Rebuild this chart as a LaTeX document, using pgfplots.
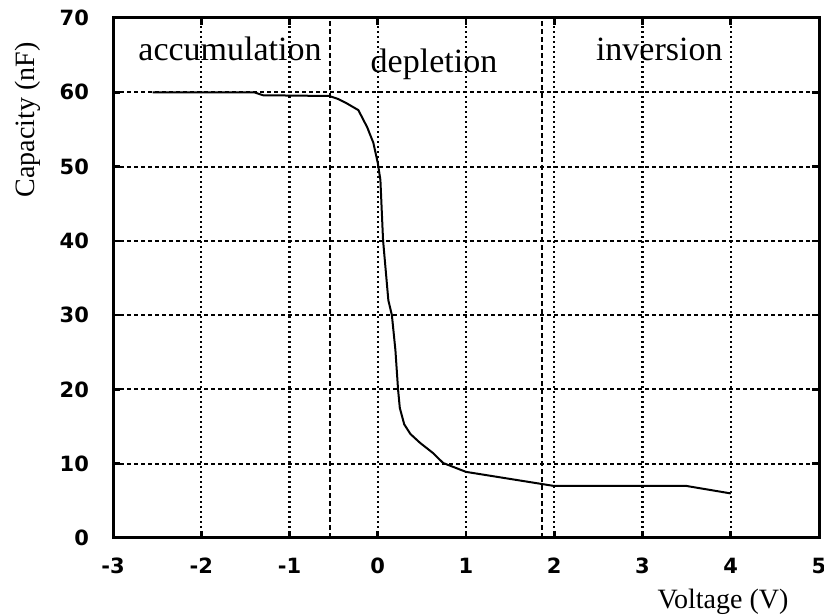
\documentclass[border=0pt]{standalone}
\usepackage{fontspec}
\setmainfont{Liberation Serif}
\newfontfamily\tickfont{DejaVu Sans}
\usepackage{pgfplots}
\pgfplotsset{compat=1.18}
\begin{document}
\begin{tikzpicture}
\begin{axis}[
  scale only axis,
  width=353pt, height=260pt,
  xmin=-3, xmax=5, ymin=0, ymax=70,
  xtick={-3,-2,-1,0,1,2,3,4,5},
  xticklabels={-3,-2,-1,0,1,2,3,4,5},
  ytick={0,10,20,30,40,50,60,70},
  yticklabels={0,10,20,30,40,50,60,70},
  tick align=inside,
  major tick length=3.5pt,
  every tick/.style={black, line width=1.3pt},
  axis line style={line width=1.5pt},
  xticklabel style={font=\tickfont\bfseries\fontsize{10.5}{12}\selectfont, anchor=north, yshift=-6.5pt},
  yticklabel style={font=\tickfont\bfseries\fontsize{10.5}{12}\selectfont, anchor=east, xshift=-8.5pt},
  grid=major,
  x grid style={black, line width=1.1pt, dash pattern=on 1.1pt off 1.4pt},
  y grid style={black, line width=1pt, dash pattern=on 2pt off 1.5pt},
  xlabel={Voltage (V)},
  ylabel={Capacity (nF)},
  xlabel style={font=\fontsize{14}{16}\selectfont, at={(rel axis cs:0.864,0)}, anchor=center, yshift=-32pt},
  ylabel style={font=\fontsize{14}{16}\selectfont, at={(rel axis cs:0,0.804)}, anchor=center, yshift=42.5pt},
  clip=false,
]
\addplot[black, line width=1pt, dash pattern=on 2.5pt off 1.5pt] coordinates {(-0.54,0) (-0.54,70)};
\addplot[black, line width=1pt, dash pattern=on 2.5pt off 1.5pt] coordinates {(1.86,0) (1.86,70)};
\addplot[black, line width=1pt] coordinates {
(-2.55,60) (-1.4,60) (-1.3,59.6) (-0.55,59.5) (-0.45,59.1) (-0.35,58.5)
(-0.22,57.6) (-0.12,55.3) (-0.05,53.2) (0.0,50.5) (0.03,48.2) (0.06,40.1)
(0.12,32) (0.16,30) (0.2,25.3) (0.23,20) (0.25,17.5) (0.3,15.3) (0.37,14)
(0.48,12.8) (0.63,11.4) (0.74,10.1) (1.0,8.9) (2.0,7.0) (3.5,7.0) (4.0,6.0)
};
\node[anchor=base, font=\fontsize{17}{20}\selectfont, inner sep=0pt] at (axis cs:-1.674,64.3) {accumulation};
\node[anchor=base, font=\fontsize{17}{20}\selectfont, inner sep=0pt] at (axis cs:0.637,62.6) {depletion};
\node[anchor=base, font=\fontsize{17}{20}\selectfont, inner sep=0pt] at (axis cs:3.19,64.3) {inversion};
\end{axis}
\pgfresetboundingbox
\path[use as bounding box] ([shift={(-56.5pt,-38.5pt)}]current axis.south west) rectangle ([shift={(2.5pt,9pt)}]current axis.north east);
\end{tikzpicture}
\end{document}
